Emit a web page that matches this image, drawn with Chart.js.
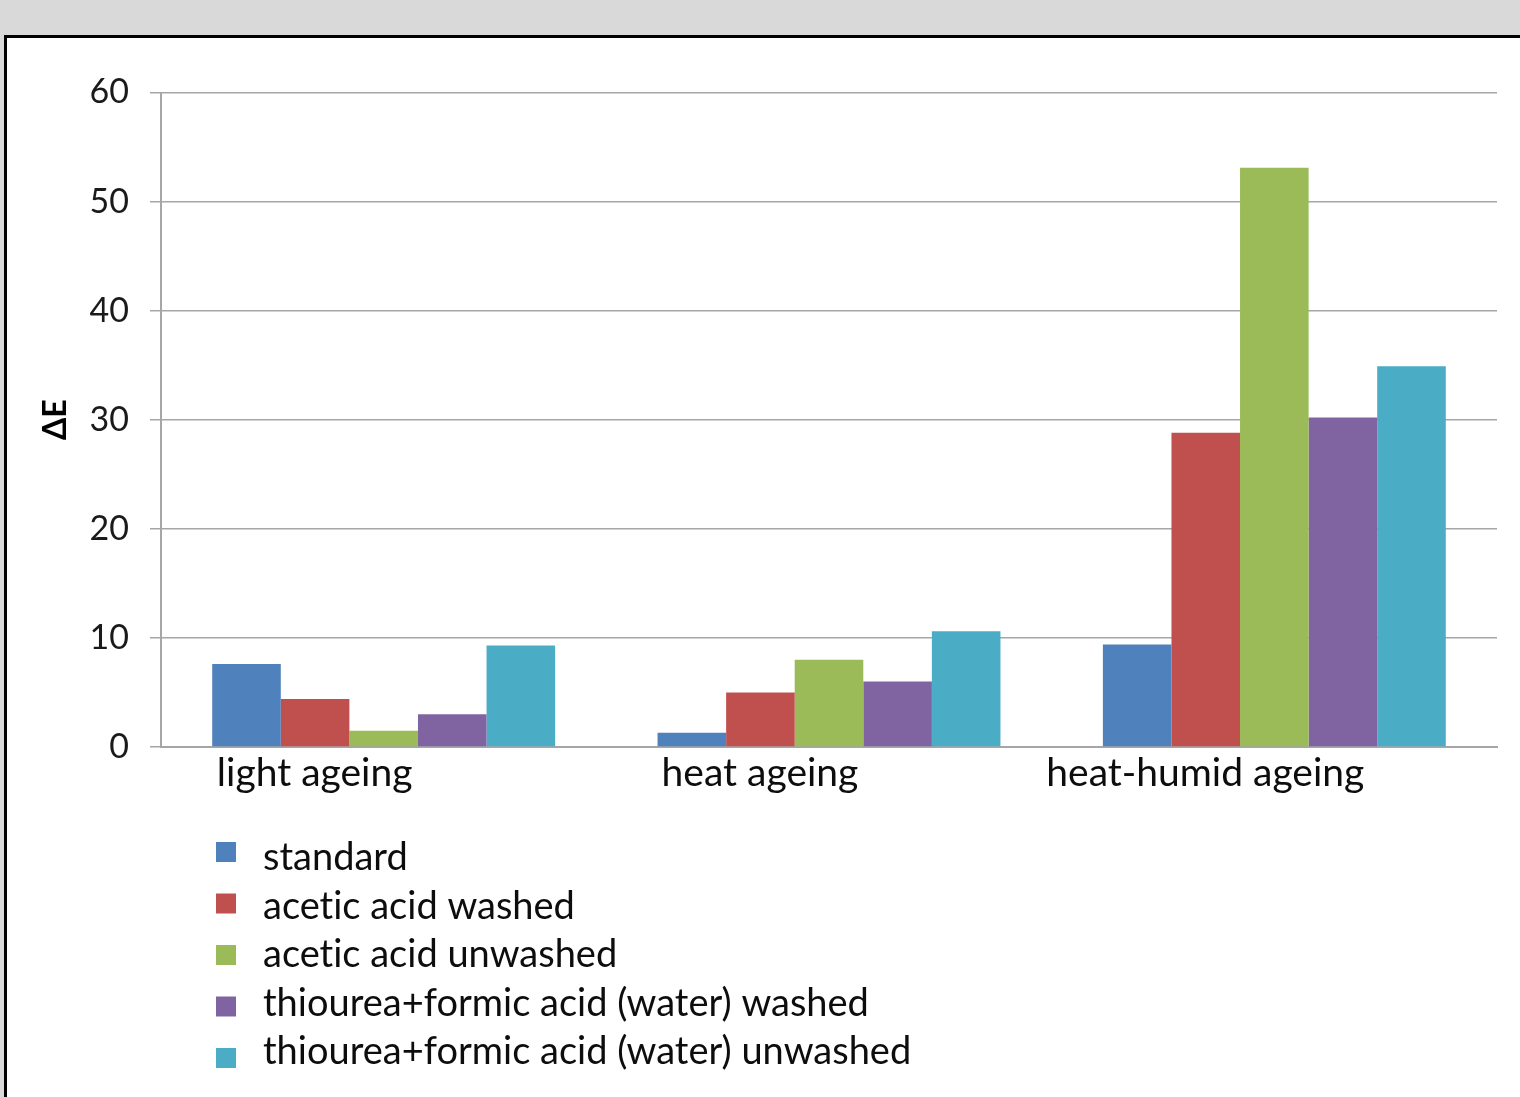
<!DOCTYPE html>
<html>
<head>
<meta charset="utf-8">
<script src="https://cdn.jsdelivr.net/npm/chart.js@4/dist/chart.umd.min.js"></script>
<style>
  html, body { margin: 0; padding: 0; width: 1520px; height: 1097px; overflow: hidden; background: #d9d9d9; }
  #frame { position: absolute; left: 4px; top: 35px; width: 1600px; height: 1200px; border: 3px solid #000; background: #fff; }
  #wrap { position: absolute; left: 0; top: 0; width: 1520px; height: 1097px; }
</style>
</head>
<body>
<div id="frame"></div>
<div id="wrap"><canvas id="chart" width="1520" height="1097"></canvas></div>
<script>
// Colour difference (ΔE) after each ageing treatment
const categories = ['light ageing', 'heat ageing', 'heat-humid ageing'];
const seriesNames = [
  'standard',
  'acetic acid washed',
  'acetic acid unwashed',
  'thiourea+formic acid (water) washed',
  'thiourea+formic acid (water) unwashed'
];
const standard         = [7.6, 1.3, 9.4];
const aceticWashed     = [4.4, 5.0, 28.8];
const aceticUnwashed   = [1.5, 8.0, 53.1];
const thioureaWashed   = [3.0, 6.0, 30.2];
const thioureaUnwashed = [9.3, 10.6, 34.9];
const yTicks = [0, 10, 20, 30, 40, 50, 60];
const seriesColors = ['#4F81BD', '#C0504D', '#9BBB59', '#8064A2', '#4BACC6'];

const seriesValues = [standard, aceticWashed, aceticUnwashed, thioureaWashed, thioureaUnwashed];

const FONT = 'Lato, "Open Sans", sans-serif';
const GRID = '#a6a6a6';

// Plain glyphs (no "ti"/"fi" ligatures) for all canvas text
const plainText = {
  id: 'plainText',
  beforeDraw(chart) { chart.ctx.textRendering = 'optimizeSpeed'; }
};

// Vertical list legend drawn under the plot
const listLegend = {
  id: 'listLegend',
  afterDraw(chart, args, o) {
    const ctx = chart.ctx;
    ctx.save();
    ctx.textRendering = 'optimizeSpeed';
    ctx.font = o.font;
    ctx.textBaseline = 'middle';
    ctx.textAlign = 'left';
    chart.data.datasets.forEach((ds, i) => {
      const by = o.boxCenter + i * o.boxStep;
      const ty = o.textCenter + i * o.textStep;
      ctx.fillStyle = ds.backgroundColor;
      ctx.fillRect(o.boxX, by - o.boxSize / 2, o.boxSize, o.boxSize);
      ctx.fillStyle = o.color;
      ctx.fillText(ds.label, o.textX, ty);
    });
    ctx.restore();
  }
};

new Chart(document.getElementById('chart'), {
  type: 'bar',
  data: {
    labels: categories,
    datasets: seriesNames.map((name, i) => ({
      label: name,
      data: seriesValues[i],
      backgroundColor: seriesColors[i],
      borderWidth: 0,
      categoryPercentage: 0.77,
      barPercentage: 1.0
    }))
  },
  options: {
    responsive: false,
    devicePixelRatio: 1,
    animation: false,
    layout: { padding: { left: 0, top: 92.5, right: 23, bottom: 290 } },
    plugins: {
      legend: { display: false },
      tooltip: { enabled: false },
      listLegend: {
        font: '38px ' + FONT,
        color: '#0d0d0d',
        boxX: 216,
        boxSize: 20,
        boxCenter: 852,
        boxStep: 51.5,
        textX: 263,
        textCenter: 858,
        textStep: 48.5
      }
    },
    scales: {
      x: {
        grid: { display: false, drawTicks: false },
        border: { display: true, color: GRID, width: 2 },
        ticks: {
          font: { family: FONT, size: 39 },
          color: '#0d0d0d',
          padding: 3,
          labelOffset: -69,
          maxRotation: 0,
          autoSkip: false
        },
        afterFit(s) { s.height = 60; }
      },
      y: {
        min: 0,
        max: 60,
        afterBuildTicks(s) { s.ticks = yTicks.map(v => ({ value: v })); },
        grid: { color: GRID, lineWidth: 1.5, drawTicks: true, tickLength: 11, tickColor: GRID },
        border: { display: true, color: GRID, width: 2 },
        ticks: {
          font: { family: FONT, size: 34 },
          color: '#1a1a1a',
          padding: 21
        },
        title: {
          display: true,
          text: 'ΔE',
          font: { family: FONT, size: 32, weight: 'bold' },
          color: '#000',
          padding: { top: 36, bottom: 0 }
        },
        afterFit(s) { s.width = 161; }
      }
    }
  },
  plugins: [plainText, listLegend]
});
</script>
</body>
</html>
